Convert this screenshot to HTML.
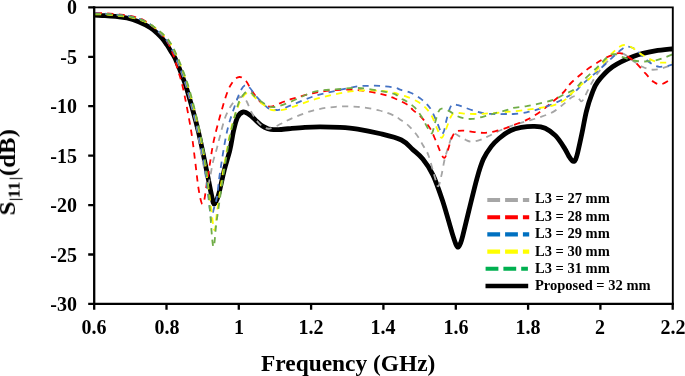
<!DOCTYPE html><html><head><meta charset="utf-8"><title>S11 chart</title><style>
html,body{margin:0;padding:0;background:#fff}
#c{position:relative;width:685px;height:376px;overflow:hidden;background:#fff;font-family:"Liberation Serif",serif;font-weight:bold;color:#000}
.t{position:absolute;white-space:nowrap;line-height:1;will-change:transform}
.yl{font-size:20px;width:60px;text-align:right;left:16.7px}
.xl{font-size:20px;width:60px;text-align:center}
.lg{font-size:14.5px;left:534.8px}
</style></head><body><div id="c">
<svg width="685" height="376" viewBox="0 0 685 376" style="position:absolute;left:0;top:0"><rect x="0" y="0" width="685" height="376" fill="#fff"/><defs><clipPath id="cp"><rect x="94.2" y="7.4" width="578.5" height="296.5"/></clipPath></defs><g clip-path="url(#cp)" fill="none" stroke-linejoin="round"><path d="M94.5 15.2C96.2 15.3 101.5 15.4 105.0 15.6C108.5 15.8 111.7 16.0 115.4 16.4C119.1 16.8 123.1 17.1 127.0 18.0C130.9 18.9 134.8 20.2 138.7 21.8C142.6 23.4 147.3 25.8 150.4 27.7C153.5 29.6 155.0 31.1 157.0 33.0C159.0 34.9 160.8 36.8 162.5 38.8C164.2 40.8 165.5 42.8 167.0 45.0C168.5 47.2 169.9 49.8 171.3 52.0C172.7 54.2 173.2 54.2 175.2 58.5C177.1 62.8 180.9 72.2 183.0 78.0C185.1 83.8 185.5 84.3 188.0 93.0C190.5 101.7 194.9 117.2 198.0 130.0C201.1 142.8 204.2 159.2 206.5 170.0C208.8 180.8 210.2 189.3 211.5 195.0C212.8 200.7 213.1 204.0 214.3 204.0C215.5 204.0 216.8 200.7 218.5 195.0C220.2 189.3 222.4 177.5 224.3 170.0C226.2 162.5 228.4 156.4 229.9 150.0C231.4 143.6 232.2 136.9 233.4 131.5C234.7 126.1 235.8 120.8 237.4 117.5C239.0 114.2 241.0 112.3 243.2 112.0C245.4 111.7 248.4 114.0 250.6 115.5C252.8 117.0 254.5 119.3 256.4 121.0C258.3 122.7 260.1 124.5 262.0 125.8C263.9 127.1 266.1 128.0 268.0 128.7C269.9 129.3 271.6 129.6 273.6 129.7C275.6 129.8 276.9 129.7 280.0 129.5C283.1 129.3 287.7 128.8 291.9 128.4C296.1 128.0 300.3 127.6 305.0 127.3C309.7 127.0 314.2 126.8 320.0 126.8C325.8 126.8 333.7 127.0 340.0 127.4C346.3 127.8 351.0 128.1 357.6 129.1C364.2 130.1 372.2 131.7 379.5 133.5C386.8 135.3 395.8 137.3 401.4 140.0C406.9 142.7 409.2 146.4 412.8 149.6C416.4 152.8 419.4 154.8 422.8 159.1C426.2 163.3 429.7 168.2 433.0 175.1C436.3 182.0 439.3 191.0 442.5 200.6C445.7 210.2 449.8 225.4 452.0 232.6C454.2 239.8 454.8 241.6 455.8 244.0C456.8 246.4 457.4 247.4 458.2 247.2C459.0 247.0 459.8 244.9 460.6 243.0C461.4 241.1 461.4 241.2 462.8 235.7C464.2 230.2 466.6 219.8 469.0 210.2C471.4 200.6 474.6 186.8 477.0 178.3C479.4 169.8 481.0 164.4 483.4 159.1C485.8 153.8 488.7 149.8 491.3 146.4C493.9 143.0 495.8 141.2 499.0 138.5C502.2 135.8 506.9 132.4 510.6 130.5C514.3 128.6 517.3 128.0 521.3 127.3C525.3 126.6 530.6 126.2 534.6 126.3C538.6 126.4 541.7 126.6 545.2 128.2C548.7 129.8 552.4 132.5 555.5 135.7C558.6 138.9 561.7 143.8 564.0 147.4C566.3 151.0 568.1 154.8 569.4 157.0C570.7 159.2 571.3 159.8 572.0 160.5C572.7 161.2 573.2 161.6 573.8 161.4C574.4 161.2 574.9 161.1 575.6 159.5C576.3 157.9 576.8 156.2 577.9 151.7C579.0 147.2 580.7 139.3 582.1 132.6C583.5 125.9 584.8 117.7 586.4 111.3C588.0 104.9 589.8 99.2 591.7 94.3C593.6 89.4 594.2 86.4 597.7 81.8C601.2 77.2 606.6 71.1 612.6 66.8C618.6 62.5 626.8 58.9 633.9 56.2C641.0 53.6 648.6 52.1 655.2 50.9C661.8 49.6 670.3 49.1 673.3 48.7" stroke="#000" stroke-width="4.8" stroke-linecap="round"/><path d="M94.5 13.8C96.6 13.9 103.1 13.9 107.2 14.2C111.3 14.4 115.0 14.9 118.9 15.3C122.8 15.7 126.7 16.0 130.6 16.8C134.5 17.6 138.5 18.7 142.2 20.2C145.9 21.7 149.8 23.9 152.7 26.0C155.6 28.1 157.1 30.5 159.5 33.0C161.9 35.5 164.7 37.7 167.1 41.2C169.5 44.7 171.6 48.7 174.0 54.0C176.4 59.3 179.3 66.6 181.6 72.9C183.9 79.2 185.3 82.5 187.8 91.7C190.3 100.9 194.4 117.0 196.8 128.0C199.2 139.1 200.4 149.8 202.0 158.0C203.6 166.2 205.2 172.7 206.3 177.0C207.4 181.3 207.6 184.2 208.3 184.0C209.0 183.8 209.5 179.7 210.3 176.0C211.1 172.3 211.9 166.4 213.0 161.9C214.1 157.4 215.5 153.3 216.7 149.1C217.8 144.8 218.5 141.6 219.9 136.4C221.3 131.2 223.0 123.3 225.0 118.0C227.0 112.7 229.5 108.0 231.7 104.7C233.9 101.4 236.1 99.2 238.0 98.0C239.9 96.8 241.9 96.8 243.4 97.5C244.9 98.2 245.8 99.8 247.0 102.0C248.2 104.2 249.2 107.8 250.9 111.0C252.6 114.2 254.9 118.3 257.0 121.0C259.1 123.7 261.4 125.7 263.6 127.0C265.8 128.3 267.1 129.1 270.0 128.6C272.9 128.1 277.4 125.5 281.0 123.8C284.6 122.1 286.4 120.5 291.9 118.3C297.4 116.0 306.5 112.2 313.8 110.3C321.1 108.4 328.4 107.4 335.7 106.8C343.0 106.2 350.3 106.2 357.6 106.8C364.9 107.4 373.3 109.0 379.5 110.5C385.7 112.0 391.4 114.5 394.8 116.0C398.2 117.5 397.7 117.8 400.0 119.4C402.3 121.0 405.7 123.0 408.5 125.7C411.3 128.3 414.5 131.9 417.0 135.3C419.5 138.7 421.4 142.6 423.4 146.0C425.3 149.4 426.8 150.6 428.7 156.0C430.6 161.4 433.5 173.2 435.1 178.3C436.7 183.4 437.2 186.8 438.3 186.3C439.4 185.8 440.4 179.6 441.5 175.1C442.6 170.6 443.4 164.4 444.7 159.1C446.0 153.8 448.3 147.0 449.5 143.2C450.7 139.3 451.1 137.6 452.0 136.0C452.9 134.4 453.7 133.7 455.0 133.8C456.3 133.9 457.8 135.4 459.6 136.4C461.4 137.4 463.9 139.1 466.0 140.0C468.1 140.9 469.8 141.8 472.3 141.7C474.8 141.6 478.0 140.6 480.9 139.6C483.8 138.6 486.2 137.2 489.4 135.7C492.6 134.2 496.0 132.2 500.0 130.5C504.0 128.8 508.9 126.8 513.3 125.2C517.7 123.7 522.2 122.5 526.6 121.2C531.0 119.9 535.5 118.8 539.9 117.2C544.3 115.7 549.2 114.1 553.2 111.9C557.2 109.7 560.7 106.3 563.8 103.9C566.9 101.5 569.6 98.5 571.8 97.3C574.0 96.1 575.4 95.8 577.0 96.5C578.6 97.2 580.1 101.4 581.5 101.3C582.9 101.2 583.6 98.7 585.1 96.0C586.6 93.3 588.3 89.1 590.4 85.3C592.5 81.5 594.7 77.3 597.7 73.2C600.7 69.1 605.3 63.7 608.3 60.5C611.3 57.3 613.7 55.4 615.8 54.1C617.9 52.9 619.1 52.6 621.1 53.0C623.1 53.4 625.4 54.8 627.5 56.2C629.6 57.6 631.4 59.7 633.9 61.5C636.4 63.3 639.6 65.5 642.4 66.8C645.2 68.1 648.1 69.2 650.9 69.6C653.7 70.0 656.5 69.5 659.4 69.0C662.2 68.5 665.7 67.1 668.0 66.4C670.3 65.7 672.4 65.0 673.3 64.7" stroke="#A5A5A5" stroke-width="1.8" stroke-dasharray="6.2 5.3" stroke-dashoffset="0.6"/><path d="M94.5 13.0C96.6 13.1 103.1 13.1 107.2 13.4C111.3 13.6 115.0 14.1 118.9 14.5C122.8 14.9 126.7 15.2 130.6 16.0C134.5 16.8 138.6 17.7 142.2 19.4C145.8 21.1 149.3 23.7 152.3 26.0C155.3 28.3 157.7 30.5 160.2 33.0C162.7 35.5 165.2 37.7 167.3 41.2C169.4 44.7 171.1 49.1 172.9 54.0C174.7 58.9 176.3 64.7 178.0 70.4C179.7 76.1 180.8 78.1 183.0 88.0C185.2 97.9 189.0 118.0 191.0 130.0C193.0 142.0 193.8 150.8 195.0 160.0C196.2 169.2 197.1 178.5 198.0 185.0C198.9 191.5 199.8 195.8 200.5 199.0C201.2 202.2 201.8 204.0 202.5 204.0C203.2 204.0 203.8 202.7 204.5 199.0C205.2 195.3 206.1 188.0 207.0 182.0C207.9 176.0 208.7 170.6 210.0 163.0C211.3 155.4 212.0 147.8 214.7 136.6C217.4 125.4 222.9 105.2 226.0 96.0C229.1 86.8 230.8 84.7 233.0 81.5C235.2 78.3 237.3 77.1 239.5 77.0C241.7 76.9 243.9 78.7 246.0 81.0C248.1 83.3 249.3 87.3 252.0 91.0C254.7 94.7 258.8 100.7 262.0 103.3C265.2 105.9 267.8 106.7 271.0 106.6C274.2 106.5 277.5 104.1 281.0 102.8C284.5 101.5 286.4 100.5 291.9 98.9C297.4 97.3 306.5 94.5 313.8 93.0C321.1 91.5 328.4 90.6 335.7 90.1C343.0 89.6 350.3 89.5 357.6 90.1C364.9 90.7 373.3 92.2 379.5 93.6C385.7 95.0 390.1 96.6 394.8 98.5C399.5 100.4 404.9 103.1 407.9 105.0C410.9 106.9 410.6 107.8 412.8 109.8C415.0 111.8 418.5 114.2 421.3 117.2C424.1 120.2 427.3 123.8 429.8 127.9C432.3 132.0 434.2 137.3 436.2 141.7C438.1 146.1 440.1 151.8 441.5 154.5C442.9 157.2 443.6 158.4 444.7 157.7C445.8 157.0 446.8 153.2 447.9 150.2C449.0 147.2 450.0 142.4 451.1 139.6C452.2 136.8 453.2 134.6 454.3 133.2C455.4 131.8 455.8 131.5 457.4 131.1C459.0 130.7 460.9 130.4 463.8 130.6C466.7 130.8 470.9 131.7 474.5 132.1C478.1 132.5 481.6 133.0 485.1 132.8C488.6 132.6 492.1 131.9 495.7 131.1C499.2 130.3 503.5 128.9 506.4 127.9C509.3 126.9 509.9 126.5 513.3 125.2C516.7 123.9 522.2 122.1 526.6 119.9C531.0 117.7 535.5 115.0 539.9 111.9C544.3 108.8 549.2 104.6 553.2 101.3C557.2 98.0 561.0 94.9 563.8 92.0C566.6 89.1 566.5 87.5 570.0 84.0C573.5 80.5 579.6 75.1 584.9 71.1C590.2 67.1 597.1 62.6 601.9 59.8C606.7 57.0 610.6 55.6 613.5 54.5C616.4 53.4 617.6 53.1 619.5 53.2C621.4 53.3 622.5 53.6 625.0 55.0C627.5 56.4 631.2 58.5 634.6 61.5C638.0 64.5 642.1 69.8 645.2 73.2C648.4 76.6 650.8 80.0 653.5 81.8C656.2 83.6 658.3 84.9 661.6 84.2C664.9 83.5 671.3 78.6 673.3 77.5" stroke="#FF0000" stroke-width="1.8" stroke-dasharray="6.2 5.3" stroke-dashoffset="-1.2"/><path d="M94.5 13.4C96.6 13.5 103.1 13.5 107.2 13.8C111.3 14.0 115.0 14.5 118.9 14.9C122.8 15.3 126.7 15.5 130.6 16.4C134.5 17.3 138.5 18.6 142.2 20.2C145.9 21.8 149.7 23.9 152.7 26.0C155.7 28.1 157.6 30.5 160.1 33.0C162.6 35.5 165.3 37.7 167.7 41.2C170.1 44.7 172.2 48.7 174.6 54.0C177.0 59.3 179.9 66.6 182.2 72.9C184.5 79.2 185.9 82.5 188.4 91.7C190.9 100.9 194.8 116.6 197.3 128.0C199.8 139.4 201.6 148.3 203.5 160.0C205.4 171.7 207.2 188.0 208.5 198.0C209.8 208.0 210.5 218.0 211.3 220.0C212.1 222.0 212.6 213.8 213.5 210.0C214.4 206.2 215.9 203.0 217.0 197.0C218.1 191.0 218.2 184.7 219.8 174.0C221.4 163.3 224.2 144.2 226.7 133.0C229.1 121.8 232.1 114.0 234.5 106.8C236.9 99.6 239.1 93.6 241.0 90.0C242.9 86.4 244.2 85.3 245.7 85.0C247.2 84.7 248.3 86.2 250.0 88.0C251.7 89.8 253.0 92.7 256.0 96.0C259.0 99.3 264.5 105.6 267.9 107.9C271.3 110.2 274.2 109.8 276.4 110.0C278.6 110.2 278.4 110.2 281.0 109.4C283.6 108.6 286.4 107.2 291.9 105.0C297.4 102.8 306.5 98.7 313.8 96.3C321.1 93.9 328.4 92.4 335.7 90.8C343.0 89.2 352.1 87.2 357.6 86.4C363.1 85.6 364.9 85.9 368.5 85.8C372.1 85.7 375.1 85.5 379.5 85.8C383.9 86.1 391.4 86.9 394.8 87.5C398.2 88.1 397.4 88.7 400.0 89.6C402.6 90.5 407.1 91.2 410.6 92.8C414.2 94.4 418.1 96.6 421.3 99.1C424.5 101.6 427.3 104.2 429.8 107.7C432.3 111.2 434.4 116.5 436.2 120.4C438.0 124.3 439.4 128.7 440.4 131.0C441.4 133.3 441.4 134.0 442.0 134.0C442.6 134.0 443.2 133.3 444.0 131.0C444.8 128.7 445.5 123.8 446.5 120.0C447.5 116.2 448.9 110.6 450.0 108.0C451.1 105.4 451.9 105.0 453.2 104.5C454.5 104.0 456.2 104.8 458.0 105.2C459.8 105.7 461.1 106.2 463.8 107.2C466.6 108.2 470.9 109.8 474.5 110.9C478.1 112.0 481.6 113.1 485.1 113.6C488.6 114.1 492.1 113.9 495.7 114.0C499.2 114.1 503.5 114.0 506.4 114.0C509.3 114.0 509.9 114.3 513.3 114.0C516.7 113.7 522.2 113.3 526.6 112.4C531.0 111.5 535.5 110.1 539.9 108.7C544.3 107.3 549.2 105.6 553.2 103.9C557.2 102.2 560.2 100.6 563.8 98.6C567.3 96.6 571.3 94.5 574.5 92.0C577.7 89.5 578.9 87.4 582.8 83.9C586.7 80.4 592.7 75.5 597.7 71.1C602.7 66.7 608.7 60.8 612.6 57.3C616.5 53.8 618.6 51.6 621.1 49.8C623.6 48.0 625.0 46.6 627.5 46.6C630.0 46.6 633.2 47.8 636.0 49.8C638.8 51.8 641.7 55.8 644.5 58.3C647.3 60.8 650.5 63.3 653.0 64.7C655.5 66.1 656.9 66.6 659.4 66.8C661.9 67.0 665.7 66.2 668.0 65.8C670.3 65.4 672.4 64.5 673.3 64.3" stroke="#4472C4" stroke-width="1.8" stroke-dasharray="6.2 5.3" stroke-dashoffset="0.9"/><path d="M94.5 14.3C96.6 14.4 103.1 14.4 107.2 14.7C111.3 14.9 115.0 15.4 118.9 15.8C122.8 16.2 126.7 16.5 130.6 17.3C134.5 18.1 138.5 19.2 142.2 20.7C145.9 22.1 149.5 23.9 152.7 26.0C155.9 28.1 158.6 30.5 161.3 33.0C164.0 35.5 166.5 37.7 168.9 41.2C171.3 44.7 173.4 48.7 175.8 54.0C178.2 59.3 181.1 66.6 183.4 72.9C185.7 79.2 187.1 82.7 189.6 91.7C192.1 100.7 195.7 115.3 198.3 127.0C200.9 138.7 203.1 149.8 205.0 162.0C206.9 174.2 208.4 188.7 210.0 200.0C211.6 211.3 213.1 228.0 214.3 230.0C215.5 232.0 215.9 219.5 217.0 212.0C218.1 204.5 219.5 194.5 221.0 185.0C222.5 175.5 224.2 165.0 226.0 155.0C227.8 145.0 229.8 133.5 232.0 125.0C234.2 116.5 236.9 109.0 239.0 104.0C241.1 99.0 242.9 96.8 244.5 95.0C246.1 93.2 247.2 93.0 248.5 93.0C249.8 93.0 251.2 94.0 252.5 95.0C253.8 96.0 253.9 96.8 256.5 99.0C259.1 101.2 265.3 106.2 267.9 108.0C270.5 109.8 269.8 109.7 272.0 110.0C274.2 110.3 277.7 110.6 281.0 110.1C284.3 109.6 286.4 109.0 291.9 107.2C297.4 105.5 306.5 101.8 313.8 99.6C321.1 97.4 328.4 95.6 335.7 94.1C343.0 92.6 350.3 91.3 357.6 90.8C364.9 90.2 373.3 90.4 379.5 90.8C385.7 91.2 391.4 92.3 394.8 93.0C398.2 93.7 398.1 94.3 400.0 94.9C401.9 95.5 403.6 95.5 406.4 96.6C409.2 97.7 413.8 99.4 417.0 101.3C420.2 103.2 423.0 105.2 425.5 107.7C428.0 110.2 429.9 112.7 431.9 116.2C433.8 119.7 435.6 125.3 437.2 128.9C438.8 132.5 440.1 137.7 441.5 137.9C442.9 138.1 444.1 133.6 445.7 130.0C447.3 126.4 449.5 119.0 451.1 116.2C452.7 113.4 453.2 113.4 455.3 113.0C457.4 112.6 460.6 113.4 463.8 113.6C467.0 113.8 470.9 114.0 474.5 114.0C478.1 114.0 481.6 113.8 485.1 113.6C488.6 113.4 492.1 113.3 495.7 113.0C499.2 112.7 503.5 112.2 506.4 111.9C509.3 111.6 509.9 111.8 513.3 111.4C516.7 111.1 522.2 110.4 526.6 109.8C531.0 109.2 535.5 108.7 539.9 107.9C544.3 107.2 549.2 106.5 553.2 105.3C557.2 104.1 560.7 102.8 563.8 100.7C566.9 98.7 569.1 95.6 572.0 93.0C574.9 90.4 578.2 87.3 581.0 85.0C583.8 82.7 586.2 81.7 589.0 79.0C591.8 76.3 593.7 73.4 597.7 69.0C601.7 64.6 609.5 56.1 613.0 52.5C616.5 48.9 617.1 48.5 619.0 47.2C620.9 46.0 622.0 44.9 624.2 45.0C626.4 45.1 629.3 46.0 632.3 47.7C635.3 49.4 638.6 52.8 642.4 55.1C646.2 57.4 651.7 60.2 655.2 61.5C658.8 62.8 660.7 62.5 663.7 62.6C666.7 62.7 671.7 62.3 673.3 62.2" stroke="#FFFF00" stroke-width="1.8" stroke-dasharray="6.2 5.3" stroke-dashoffset="-0.5"/><path d="M94.5 13.8C96.6 13.9 103.1 13.9 107.2 14.2C111.3 14.4 115.0 14.9 118.9 15.3C122.8 15.7 126.7 16.0 130.6 16.8C134.5 17.6 138.5 18.7 142.2 20.2C145.9 21.7 149.4 23.9 152.7 26.0C155.9 28.1 158.9 30.5 161.7 33.0C164.5 35.5 166.9 37.7 169.3 41.2C171.7 44.7 173.8 48.7 176.2 54.0C178.6 59.3 181.5 66.6 183.8 72.9C186.1 79.2 187.5 82.9 190.0 91.7C192.5 100.5 196.1 114.6 198.6 126.0C201.1 137.4 203.2 146.8 205.0 160.0C206.8 173.2 208.1 190.6 209.5 205.0C210.9 219.4 212.1 243.9 213.3 246.7C214.5 249.5 215.1 231.8 216.5 222.0C217.9 212.2 219.8 199.0 221.5 188.0C223.2 177.0 225.0 164.9 226.5 156.0C228.0 147.1 228.4 143.1 230.3 134.5C232.2 126.0 235.8 111.4 238.0 104.7C240.2 98.0 241.8 96.7 243.5 94.5C245.2 92.3 246.5 91.6 248.0 91.5C249.5 91.4 251.1 92.9 252.5 94.0C253.9 95.1 253.9 96.3 256.5 98.3C259.1 100.2 264.8 104.2 267.9 105.7C271.0 107.2 271.5 107.5 275.0 107.0C278.5 106.5 282.5 105.0 289.0 102.5C295.5 100.0 306.0 94.1 313.8 91.9C321.6 89.7 328.4 90.0 335.7 89.3C343.0 88.6 350.3 87.8 357.6 88.0C364.9 88.2 373.3 89.8 379.5 90.8C385.7 91.8 391.4 92.9 394.8 94.1C398.2 95.3 398.1 96.9 400.0 98.1C401.9 99.3 403.9 99.7 406.4 101.3C408.9 102.9 412.4 105.2 414.9 107.7C417.4 110.2 419.2 112.8 421.3 116.2C423.4 119.6 425.9 125.1 427.7 127.9C429.5 130.7 430.7 134.1 431.9 133.2C433.1 132.3 434.0 126.1 435.1 122.6C436.2 119.0 437.2 114.2 438.3 111.9C439.4 109.6 439.7 108.9 441.5 108.7C443.3 108.5 446.2 109.7 448.9 110.9C451.5 112.2 454.9 115.0 457.4 116.2C459.9 117.4 461.3 117.8 463.8 118.3C466.3 118.8 468.8 119.2 472.3 118.9C475.9 118.6 481.2 117.2 485.1 116.2C489.0 115.2 492.1 114.0 495.7 113.0C499.2 112.0 503.5 111.0 506.4 110.2C509.3 109.4 509.9 108.6 513.3 107.9C516.7 107.2 522.2 106.8 526.6 106.1C531.0 105.3 535.5 104.4 539.9 103.4C544.3 102.4 549.2 101.4 553.2 99.9C557.2 98.4 560.2 96.4 563.8 94.6C567.3 92.8 571.3 91.6 574.5 89.3C577.7 87.0 578.9 84.5 582.8 80.7C586.7 77.0 593.5 70.9 597.7 66.8C602.0 62.7 605.5 58.3 608.3 56.2C611.1 54.1 612.2 53.9 614.7 54.1C617.2 54.3 620.0 56.2 623.2 57.3C626.4 58.4 630.4 59.8 633.9 60.5C637.4 61.2 641.0 61.5 644.5 61.5C648.0 61.5 652.0 61.1 655.2 60.5C658.4 59.9 660.7 59.0 663.7 57.9C666.7 56.8 671.7 54.7 673.3 54.1" stroke="#70AD47" stroke-width="1.8" stroke-dasharray="6.2 5.3" stroke-dashoffset="0"/></g><path d="M94.2 7.4H672.8V303.9" fill="none" stroke="#000" stroke-width="1.9"/><path d="M94.2 7.4V303.9H672.8" fill="none" stroke="#000" stroke-width="2.3" stroke-linecap="square"/><path d="M88.2 7.4H94.2M88.2 56.8H94.2M88.2 106.2H94.2M88.2 155.7H94.2M88.2 205.1H94.2M88.2 254.5H94.2M88.2 303.9H94.2M94.2 303.9V309.7M166.5 303.9V309.7M238.8 303.9V309.7M311.1 303.9V309.7M383.4 303.9V309.7M455.8 303.9V309.7M528.1 303.9V309.7M600.4 303.9V309.7M672.7 303.9V309.7" stroke="#000" stroke-width="2.3" fill="none"/><path d="M487.3 200.0H529.2" stroke="#A6A6A6" stroke-width="4.1" stroke-dasharray="12.8 5" fill="none"/><path d="M487.3 217.2H529.2" stroke="#FF0000" stroke-width="4.1" stroke-dasharray="12.8 5" fill="none"/><path d="M487.3 234.4H529.2" stroke="#0070C0" stroke-width="4.1" stroke-dasharray="12.8 5" fill="none"/><path d="M487.3 251.6H529.2" stroke="#FFFF00" stroke-width="4.1" stroke-dasharray="12.8 5" fill="none"/><path d="M485.6 268.8H527.9" stroke="#00B050" stroke-width="4.1" stroke-dasharray="12.8 5" fill="none"/><path d="M485.5 286H528.2" stroke="#000" stroke-width="4.7" fill="none"/></svg>
<div class="t yl" style="top:-3.0px">0</div>
<div class="t yl" style="top:46.5px">-5</div>
<div class="t yl" style="top:96.1px">-10</div>
<div class="t yl" style="top:145.6px">-15</div>
<div class="t yl" style="top:195.2px">-20</div>
<div class="t yl" style="top:244.8px">-25</div>
<div class="t yl" style="top:294.3px">-30</div>
<div class="t xl" style="left:64.2px;top:316.9px">0.6</div>
<div class="t xl" style="left:136.5px;top:316.9px">0.8</div>
<div class="t xl" style="left:208.8px;top:316.9px">1</div>
<div class="t xl" style="left:281.1px;top:316.9px">1.2</div>
<div class="t xl" style="left:353.4px;top:316.9px">1.4</div>
<div class="t xl" style="left:425.8px;top:316.9px">1.6</div>
<div class="t xl" style="left:498.1px;top:316.9px">1.8</div>
<div class="t xl" style="left:570.4px;top:316.9px">2</div>
<div class="t xl" style="left:642.7px;top:316.9px">2.2</div>
<div class="t" style="font-size:23.4px;left:261.3px;top:351.8px">Frequency (GHz)</div>
<div class="t" style="font-size:23px;left:0;top:0;transform-origin:0 0;transform:translate(-4.0px,215.4px) rotate(-90deg) scaleX(1.08);">S</div>
<div class="t" style="font-size:15px;left:0;top:0;transform-origin:0 0;transform:translate(7.6px,201.05px) rotate(-90deg) scaleX(1.0);">|</div>
<div class="t" style="font-size:15px;left:0;top:0;transform-origin:0 0;transform:translate(7.6px,180.15px) rotate(-90deg) scaleX(1.0);">|</div>
<div class="t" style="font-size:16px;left:0;top:0;transform-origin:0 0;transform:translate(6.6px,198.2px) rotate(-90deg) scaleX(1.1);">11</div>
<div class="t" style="font-size:23px;left:0;top:0;transform-origin:0 0;transform:translate(-4.0px,176.1px) rotate(-90deg) scaleX(1.08);">(dB)</div>
<div class="t lg" style="top:191.15px">L3 = 27 mm</div>
<div class="t lg" style="top:208.61px">L3 = 28 mm</div>
<div class="t lg" style="top:226.07px">L3 = 29 mm</div>
<div class="t lg" style="top:243.53px">L3 = 30 mm</div>
<div class="t lg" style="top:260.99px">L3 = 31 mm</div>
<div class="t lg" style="top:278.45px">Proposed = 32 mm</div>
</div></body></html>
